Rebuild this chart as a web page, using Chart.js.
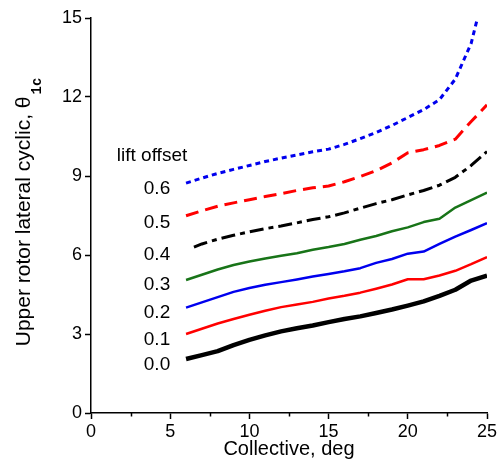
<!DOCTYPE html>
<html>
<head>
<meta charset="utf-8">
<script src="https://cdn.jsdelivr.net/npm/chart.js@4.4.1/dist/chart.umd.min.js"></script>
<style>
  html, body { margin: 0; padding: 0; background: #fff; }
</style>
</head>
<body>
<canvas id="rotorChart" width="501" height="467"></canvas>
<script>
// collective pitch (deg)
const collective = [6, 7, 8, 9, 10, 11, 12, 13, 14, 15, 16, 17, 18, 19, 20, 21, 22, 23, 24, 25];
const collective04 = [6.5, 7, 8, 9, 10, 11, 12, 13, 14, 15, 16, 17, 18, 19, 20, 21, 22, 23, 24, 25];
const collective06 = [6, 7, 8, 9, 10, 11, 12, 13, 14, 15, 16, 17, 18, 19, 20, 21, 22, 23, 24, 24.4];

// upper rotor lateral cyclic for each lift offset
const lift00 = [2.05, 2.2, 2.35, 2.58, 2.78, 2.95, 3.1, 3.22, 3.32, 3.45, 3.57, 3.67, 3.8, 3.93, 4.08, 4.24, 4.45, 4.68, 5.03, 5.22];
const lift01 = [3.0, 3.2, 3.4, 3.57, 3.73, 3.88, 4.02, 4.12, 4.22, 4.35, 4.45, 4.57, 4.72, 4.88, 5.08, 5.08, 5.22, 5.4, 5.65, 5.92];
const lift02 = [4.0, 4.2, 4.4, 4.6, 4.75, 4.87, 4.97, 5.07, 5.18, 5.28, 5.38, 5.5, 5.7, 5.85, 6.05, 6.13, 6.42, 6.7, 6.95, 7.21];
const lift03 = [5.05, 5.25, 5.45, 5.62, 5.75, 5.87, 5.97, 6.07, 6.2, 6.3, 6.42, 6.58, 6.72, 6.9, 7.05, 7.25, 7.38, 7.8, 8.08, 8.37];
const lift04 = [6.3, 6.42, 6.6, 6.75, 6.88, 7.0, 7.1, 7.22, 7.35, 7.45, 7.6, 7.78, 7.95, 8.1, 8.28, 8.45, 8.65, 8.95, 9.4, 9.93];
const lift05 = [7.49, 7.68, 7.85, 7.98, 8.1, 8.22, 8.33, 8.45, 8.55, 8.62, 8.78, 8.98, 9.2, 9.5, 9.88, 10.0, 10.16, 10.4, 11.07, 11.7];
const lift06 = [8.73, 8.92, 9.1, 9.25, 9.4, 9.55, 9.68, 9.8, 9.92, 10.02, 10.2, 10.42, 10.65, 10.92, 11.22, 11.52, 11.9, 12.68, 14.04, 15.0];

const xTicks = [0, 5, 10, 15, 20, 25];
const yTicks = [0, 3, 6, 9, 12, 15];
const offsetNames = ['0.0', '0.1', '0.2', '0.3', '0.4', '0.5', '0.6'];

// where the inline labels sit, in axis units
const offsetLabelX = 5.0;
const offsetLabelY = [1.82, 2.8, 3.81, 4.87, 6.0, 7.22, 8.5];
const headerPos = { x: 1.63, y: 9.78 };

const FONT = '"Liberation Sans", Arial, sans-serif';
const SUBFONT = 'bold 14px "Liberation Mono", "DejaVu Sans Mono", monospace';

function pts(xs, ys) {
    return xs.map((x, i) => ({ x: x, y: ys[i] }));
}

function line(data, color, width, dash) {
    return {
        data: data,
        borderColor: color,
        borderWidth: width,
        borderDash: dash || [],
        pointRadius: 0,
        tension: 0,
        fill: false,
        borderJoinStyle: 'round'
    };
}

const datasets = [
    line(pts(collective, lift00), '#000000', 4.5),
    line(pts(collective, lift01), '#ff0000', 2.5),
    line(pts(collective, lift02), '#0000ee', 2.5),
    line(pts(collective, lift03), '#187418', 2.5),
    line(pts(collective04, lift04), '#000000', 3, [14, 5, 5, 5]),
    line(pts(collective, lift05), '#ff0000', 3, [13, 7]),
    line(pts(collective06, lift06), '#0000ee', 3, [5, 4])
];

// labels, y title with subscript, minor x ticks
const extras = {
    id: 'extras',
    afterDraw(chart) {
        const c = chart.ctx;
        const xs = chart.scales.x;
        const ys = chart.scales.y;
        const area = chart.chartArea;
        c.save();

        // minor ticks on x
        c.strokeStyle = '#000';
        c.lineWidth = 1.5;
        for (let i = 0; i < xTicks.length - 1; i++) {
            const px = Math.round(xs.getPixelForValue((xTicks[i] + xTicks[i + 1]) / 2)) + 0.5;
            c.beginPath();
            c.moveTo(px, area.bottom);
            c.lineTo(px, area.bottom + 3.5);
            c.stroke();
        }

        // inline labels
        c.fillStyle = '#000';
        c.font = '19px ' + FONT;
        c.textBaseline = 'middle';
        c.textAlign = 'left';
        c.fillText('lift offset', xs.getPixelForValue(headerPos.x), ys.getPixelForValue(headerPos.y));
        c.textAlign = 'right';
        offsetNames.forEach((t, i) => {
            c.fillText(t, xs.getPixelForValue(offsetLabelX), ys.getPixelForValue(offsetLabelY[i]));
        });

        // y axis title: Upper rotor lateral cyclic, θ with subscript 1c
        const main = 'Upper rotor lateral cyclic, \u03b8';
        const sub = '1c';
        c.font = '21px ' + FONT;
        const wMain = c.measureText(main).width;
        c.font = SUBFONT;
        const wSub = c.measureText(sub).width;
        const total = wMain + 2 + wSub;
        const cy = 212;
        c.translate(30, cy + total / 2);
        c.rotate(-Math.PI / 2);
        c.textAlign = 'left';
        c.textBaseline = 'alphabetic';
        c.font = '21px ' + FONT;
        c.fillText(main, 0, 0);
        c.font = SUBFONT;
        c.fillText(sub, wMain + 2, 11);

        c.restore();
    }
};

new Chart(document.getElementById('rotorChart'), {
    type: 'line',
    data: { datasets: datasets },
    options: {
        responsive: false,
        devicePixelRatio: 1,
        animation: false,
        layout: {
            autoPadding: false,
            padding: { top: 18, right: 14, left: 0, bottom: 0 }
        },
        plugins: {
            legend: { display: false },
            tooltip: { enabled: false }
        },
        scales: {
            x: {
                type: 'linear',
                min: 0,
                max: 25,
                afterBuildTicks: (s) => { s.ticks = xTicks.map(v => ({ value: v })); },
                afterFit: (s) => { s.height = 54; },
                ticks: { color: '#000', font: { size: 18, family: FONT }, padding: 2, maxRotation: 0 },
                grid: { drawOnChartArea: false, tickLength: 6, tickColor: '#000', tickWidth: 1.5 },
                border: { color: '#000', width: 1.5 },
                title: {
                    display: true,
                    text: 'Collective, deg',
                    color: '#000',
                    font: { size: 20, family: FONT },
                    padding: { top: 0, bottom: 6 }
                }
            },
            y: {
                type: 'linear',
                min: 0,
                max: 15,
                afterBuildTicks: (s) => { s.ticks = yTicks.map(v => ({ value: v })); },
                afterFit: (s) => { s.width = 91; },
                ticks: { color: '#000', font: { size: 18, family: FONT }, padding: 3 },
                grid: { drawOnChartArea: false, tickLength: 6, tickColor: '#000', tickWidth: 1.5 },
                border: { color: '#000', width: 1.5 }
            }
        }
    },
    plugins: [extras]
});
</script>
</body>
</html>
